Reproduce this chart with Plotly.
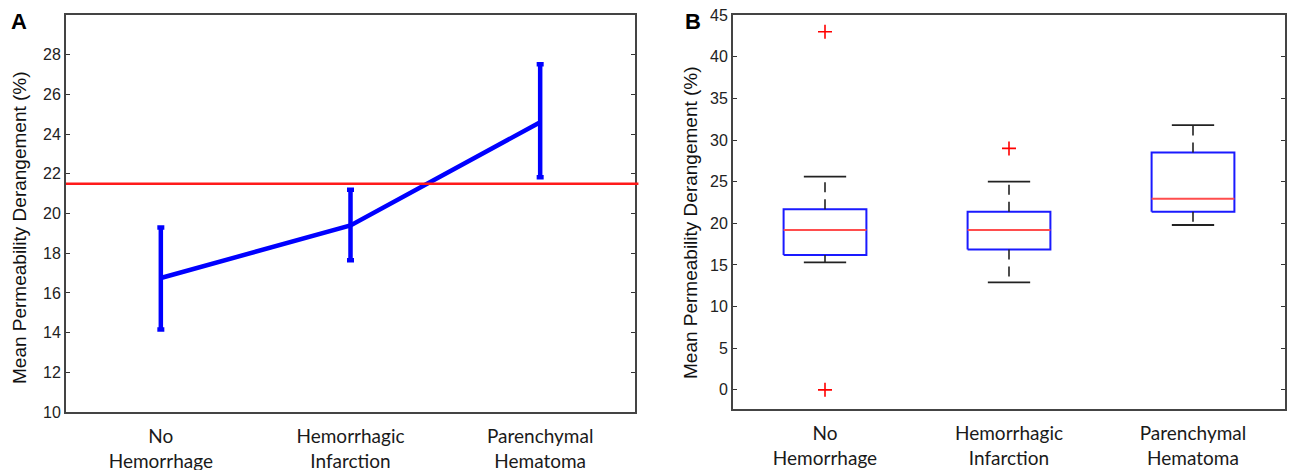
import plotly.graph_objects as go

W, H = 1290, 470

categories = ["No<br>Hemorrhage", "Hemorrhagic<br>Infarction", "Parenchymal<br>Hematoma"]
cat_pos = [1, 2, 3]

# Panel A: mean with error bars
mean_vals = [16.75, 19.40, 24.60]
err_plus = [2.55, 1.80, 2.92]
err_minus = [2.60, 1.76, 2.78]
reference_line = 21.5

# Panel B: box plot statistics
lower_whisker = [15.3, 12.9, 19.8]
q1_vals = [16.2, 16.85, 21.4]
median_vals = [19.2, 19.2, 22.95]
q3_vals = [21.7, 21.4, 28.5]
upper_whisker = [25.6, 25.0, 31.8]
outlier_x = [1, 1, 2]
outlier_y = [43.0, 0.0, 29.0]

a_yticks = [10, 12, 14, 16, 18, 20, 22, 24, 26, 28]
b_yticks = [0, 5, 10, 15, 20, 25, 30, 35, 40, 45]

BOX_HALF = 0.225
CAP_HALF = 0.115


def px(p):
    return p / W


def py(p):
    return 1 - p / H


fig = go.Figure()

# ---- Panel A ----
fig.add_trace(go.Scatter(
    x=cat_pos, y=mean_vals, mode="lines",
    line=dict(color="#0000ff", width=4.5),
    error_y=dict(type="data", symmetric=False, array=err_plus, arrayminus=err_minus,
                 color="#0000ff", thickness=4.5, width=3.5),
    xaxis="x", yaxis="y", showlegend=False, hoverinfo="skip"))

fig.add_shape(type="line", xref="x domain", yref="y", x0=0, x1=1.006,
              y0=reference_line, y1=reference_line,
              line=dict(color="#ff1a1a", width=2.5))

# ---- Panel B ----
for i, xc in enumerate(cat_pos):
    fig.add_trace(go.Scatter(
        x=[xc - BOX_HALF, xc + BOX_HALF, xc + BOX_HALF, xc - BOX_HALF, xc - BOX_HALF],
        y=[q1_vals[i], q1_vals[i], q3_vals[i], q3_vals[i], q1_vals[i]],
        mode="lines", line=dict(color="#1a1aff", width=2),
        xaxis="x2", yaxis="y2", showlegend=False, hoverinfo="skip"))
    fig.add_trace(go.Scatter(
        x=[xc, xc, None, xc, xc],
        y=[q3_vals[i], upper_whisker[i], None, q1_vals[i], lower_whisker[i]],
        mode="lines", line=dict(color="#222222", width=1.6, dash="10px,7px"),
        xaxis="x2", yaxis="y2", showlegend=False, hoverinfo="skip"))
    fig.add_trace(go.Scatter(
        x=[xc - CAP_HALF, xc + CAP_HALF, None, xc - CAP_HALF, xc + CAP_HALF],
        y=[upper_whisker[i], upper_whisker[i], None, lower_whisker[i], lower_whisker[i]],
        mode="lines", line=dict(color="#222222", width=1.8),
        xaxis="x2", yaxis="y2", showlegend=False, hoverinfo="skip"))
    fig.add_trace(go.Scatter(
        x=[xc - BOX_HALF, xc + BOX_HALF], y=[median_vals[i], median_vals[i]],
        mode="lines", line=dict(color="#ff4d4d", width=2),
        xaxis="x2", yaxis="y2", showlegend=False, hoverinfo="skip"))

fig.add_trace(go.Scatter(
    x=outlier_x, y=outlier_y, mode="markers",
    marker=dict(symbol="cross-thin", size=10, line=dict(color="#ff0000", width=1.6)),
    xaxis="x2", yaxis="y2", showlegend=False, hoverinfo="skip"))

tick_font = dict(family="Liberation Sans, Arial, sans-serif", size=16, color="#222222")
cat_font = dict(family="Lato, Open Sans, sans-serif", size=19, color="#1a1a1a")

common_y = dict(showline=True, mirror="ticks", linecolor="#444444", linewidth=2,
                ticks="inside", ticklen=4, tickcolor="#333333", tickwidth=1.2,
                showgrid=False, zeroline=False, tickfont=tick_font, automargin=False)
common_x = dict(showline=True, mirror=True, linecolor="#444444", linewidth=2,
                ticks="", showgrid=False, zeroline=False, tickfont=cat_font,
                range=[0.5, 3.5], tickvals=cat_pos, ticktext=categories,
                automargin=False, ticklabelstandoff=6)

fig.update_layout(
    width=W, height=H,
    margin=dict(l=0, r=0, t=0, b=0),
    paper_bgcolor="white", plot_bgcolor="white",
    xaxis=dict(domain=[px(66), px(635)], anchor="y", **common_x),
    yaxis=dict(domain=[py(412), py(15)], anchor="x", range=[10, 30],
               tickvals=a_yticks, **common_y),
    xaxis2=dict(domain=[px(733), px(1285)], anchor="y2", **common_x),
    yaxis2=dict(domain=[py(409), py(15)], anchor="x2", range=[-2.3, 45.02],
                tickvals=b_yticks, **common_y),
)

title_font = dict(family="Liberation Sans, Arial, sans-serif", size=19, color="#111111")
fig.add_annotation(text="Mean Permeability Derangement (%)", textangle=-90,
                   xref="paper", yref="paper", x=px(19), y=py(228),
                   showarrow=False, font=title_font, xanchor="center", yanchor="middle")
fig.add_annotation(text="Mean Permeability Derangement (%)", textangle=-90,
                   xref="paper", yref="paper", x=px(690), y=py(222),
                   showarrow=False, font=title_font, xanchor="center", yanchor="middle")

label_font = dict(family="Liberation Sans, Arial, sans-serif", size=22, color="#000000")
fig.add_annotation(text="<b>A</b>", xref="paper", yref="paper", x=px(19), y=py(21),
                   showarrow=False, font=label_font, xanchor="center", yanchor="middle")
fig.add_annotation(text="<b>B</b>", xref="paper", yref="paper", x=px(693), y=py(21),
                   showarrow=False, font=label_font, xanchor="center", yanchor="middle")

fig.write_html(
    "out.html",
    config={"displayModeBar": False},
    post_script="document.body.style.margin='0';document.body.style.overflow='hidden';",
)
